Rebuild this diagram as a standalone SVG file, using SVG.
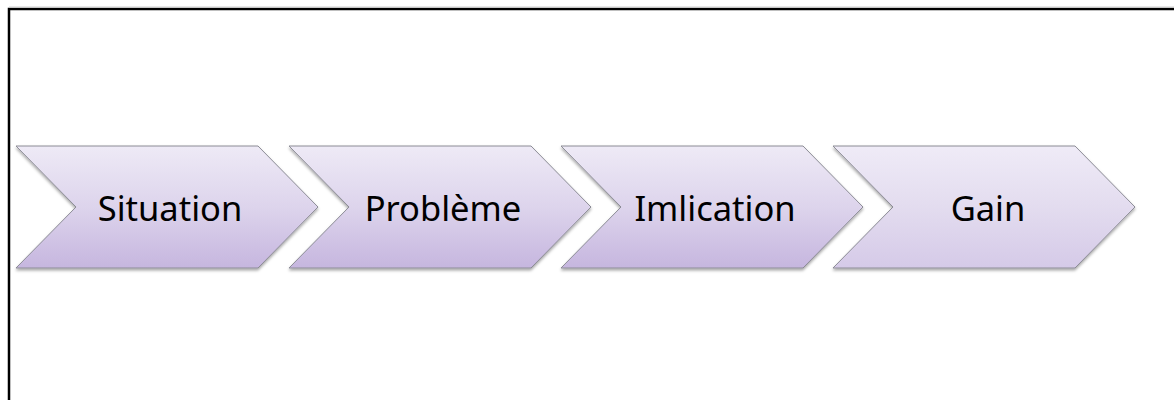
<svg xmlns="http://www.w3.org/2000/svg" width="1174" height="400" viewBox="0 0 1174 400">
  <style>
    .step { stroke: #8c8c96; stroke-width: 1; filter: url(#shadow); }
    .label { font-family: "Noto Sans", "Open Sans", sans-serif; font-size: 34.5px; fill: #000; text-anchor: middle; }
    .frame { stroke: #000; stroke-width: 2.5; fill: none; }
  </style>
  <defs>
    <linearGradient id="fillStep" x1="0" y1="0" x2="0" y2="1">
      <stop offset="0" stop-color="#eeeaf6"/>
      <stop offset="0.5" stop-color="#ddd4ec"/>
      <stop offset="1" stop-color="#c6b6df"/>
    </linearGradient>
    <linearGradient id="fillLast" x1="0" y1="0" x2="0" y2="1">
      <stop offset="0" stop-color="#efebf7"/>
      <stop offset="0.5" stop-color="#e3dcef"/>
      <stop offset="1" stop-color="#d5cae8"/>
    </linearGradient>
    <filter id="shadow" x="-5%" y="-10%" width="110%" height="125%">
      <feDropShadow dx="0" dy="2" stdDeviation="1.5" flood-color="#000" flood-opacity="0.35"/>
    </filter>
    <path id="chevron" d="M0,0 H242 L302,61 L242,122 H0 L60,61 Z"/>
  </defs>

  <rect width="1174" height="400" fill="#fff"/>
  <!-- page frame: top and left rules -->
  <path class="frame" d="M9,400 V9 H1174"/>
  <line x1="9" y1="7" x2="1174" y2="7" stroke="#d0d0d0" stroke-width="1"/>

  <g id="connectors"/>

  <g id="step-situation">
    <use href="#chevron" x="16" y="146" class="step" fill="url(#fillStep)"/>
    <text class="label" x="170" y="221">Situation</text>
  </g>
  <g id="step-probleme">
    <use href="#chevron" x="289" y="146" class="step" fill="url(#fillStep)"/>
    <text class="label" x="443" y="221">Problème</text>
  </g>
  <g id="step-implication">
    <use href="#chevron" x="561" y="146" class="step" fill="url(#fillStep)"/>
    <text class="label" x="715" y="221">Imlication</text>
  </g>
  <g id="step-gain">
    <use href="#chevron" x="833" y="146" class="step" fill="url(#fillLast)"/>
    <text class="label" x="988" y="221">Gain</text>
  </g>
</svg>
